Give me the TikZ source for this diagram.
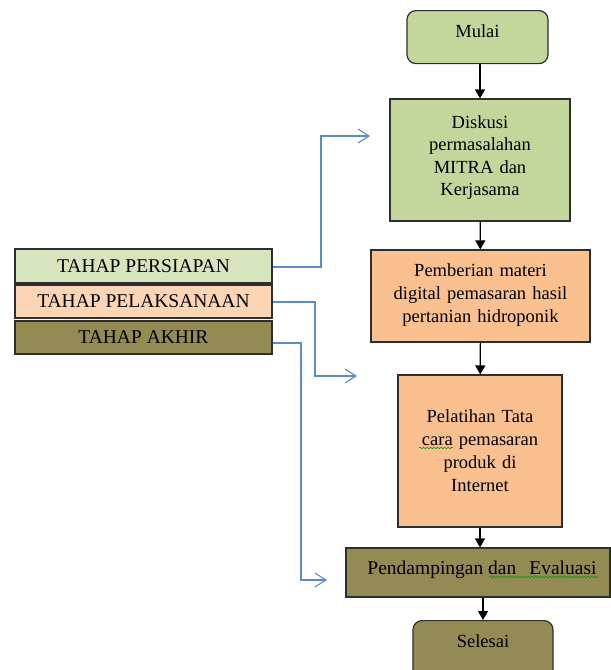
\documentclass[tikz,border=0pt]{standalone}
\usepackage{fontspec}
\setmainfont{Liberation Serif}
\usetikzlibrary{arrows.meta,decorations.pathmorphing}
\definecolor{gmain}{HTML}{C3D69B}
\definecolor{glight}{HTML}{D7E4BD}
\definecolor{omain}{HTML}{FAC090}
\definecolor{olight}{HTML}{FCD5B5}
\definecolor{olive}{HTML}{948A54}
\definecolor{bline}{HTML}{5B8BC8}
\definecolor{bord}{HTML}{2E2E2E}
\begin{document}
\begin{tikzpicture}[x=1pt,y=-1pt,
  box/.style={draw=bord,line width=1.2pt,align=center,inner sep=2pt,
    font=\fontsize{18.5}{23}\selectfont},
  rbox/.style={box,rounded corners=9pt},
  tahap/.style={box,minimum width=257pt,font=\fontsize{19.5}{23}\selectfont},
  flow/.style={draw=black,line width=1.2pt,-{Triangle[length=9pt,width=10pt]}},
  phase/.style={draw=bline,line width=1.1pt,-{Straight Barb[length=11pt,width=14pt,line width=1.1pt]}},
  squig/.style={draw=green!60!black,line width=0.6pt,decorate,
    decoration={snake,amplitude=0.8pt,segment length=3.5pt}}]
\useasboundingbox (0,0) rectangle (611,670);
\clip (0,0) rectangle (611,670);
% right column
\node[rbox,fill=gmain,minimum width=141pt,anchor=north,inner ysep=2pt,text height=25pt,text depth=24pt] (mulai) at (477.5,10) {Mulai};
\node[box,fill=gmain,minimum width=180pt,minimum height=122pt,text width=150pt,
  font=\fontsize{18.5}{22.5}\selectfont] (diskusi) at (480,160)
  {Diskusi\\permasalahan\\MITRA dan\\Kerjasama\\[-14pt]\mbox{}};
\node[box,fill=omain,minimum width=219pt,minimum height=92pt,text width=210pt] (pemberian) at (480.5,296)
  {Pemberian materi\\digital pemasaran hasil\\pertanian hidroponik\\[-17pt]\mbox{}};
\node[box,fill=omain,minimum width=164pt,minimum height=152pt,text width=150pt] (pelatihan) at (480,451)
  {Pelatihan Tata\\cara pemasaran\\produk di\\Internet};
\node[box,fill=olive,minimum width=264pt,minimum height=49pt,text height=14pt,text depth=10pt,
  font=\fontsize{19.5}{23}\selectfont] (pendamp) at (478,572.5)
  {\hspace{8pt}Pendampingan dan\hspace{13pt}Evaluasi};
\node[rbox,fill=olive,minimum width=140pt,anchor=north,inner ysep=6pt,text height=21pt,text depth=27pt] (selesai) at (483,620) {Selesai};
% left column
\node[tahap,fill=glight,minimum height=34pt] (persiapan) at (143.5,266) {TAHAP PERSIAPAN};
\node[tahap,fill=olight,minimum height=33pt] (pelaksanaan) at (143.5,301.5) {TAHAP PELAKSANAAN};
\node[tahap,fill=olive,minimum height=33pt] (akhir) at (143.5,337.5) {TAHAP AKHIR};
% spelling marks
\coordinate (s1a) at (419,448);
\coordinate (s1b) at (453,448);
\coordinate (s2a) at (489,577);
\coordinate (s2b) at (598,577);
\draw[squig] (s1a) -- (s1b);
\draw[squig] (s2a) -- (s2b);
% flow arrows
\draw[flow] (mulai.south -| diskusi.north) -- (diskusi.north);
\draw[flow] (diskusi) -- (pemberian);
\draw[flow] (pemberian) -- (pelatihan);
\draw[flow] (pelatihan.south) -- (pelatihan.south |- pendamp.north);
\draw[flow] ([xshift=5pt]pendamp.south) -- ([xshift=5pt]pendamp.south |- selesai.north);
% phase connectors
\coordinate (e1) at (370,136);
\coordinate (e2) at (357,376);
\coordinate (e3) at (327,580);
\draw[phase] ([yshift=-1pt]persiapan.east) -| (321,136) -- (e1);
\draw[phase] ([yshift=-0.5pt]pelaksanaan.east) -| (315,376) -- (e2);
\draw[phase] ([yshift=-5.5pt]akhir.east) -| (301,580) -- (e3);
\end{tikzpicture}
\end{document}
